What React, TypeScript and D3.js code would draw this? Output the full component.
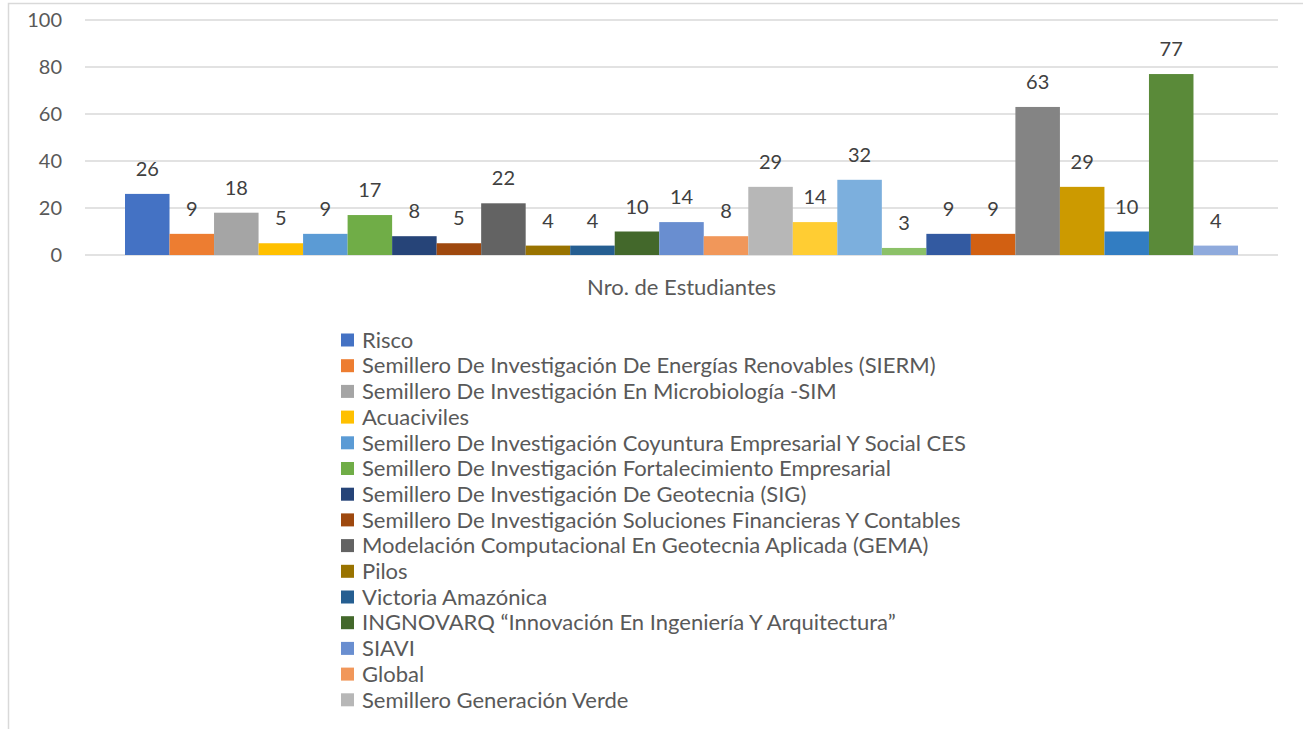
import React, { useEffect, useRef } from 'react';
import * as d3 from 'd3';

// bar values, left to right (one bar per series)
const values = [26, 9, 18, 5, 9, 17, 8, 5, 22, 4, 4, 10, 14, 8, 29, 14, 32, 3, 9, 9, 63, 29, 10, 77, 4];

// office-like palette, one colour per series
const colors = [
  '#4472C4', '#ED7D31', '#A5A5A5', '#FFC000', '#5B9BD5', '#70AD47',
  '#264478', '#9E480E', '#636363', '#997300', '#255E91', '#43682B',
  '#698ED0', '#F1975A', '#B7B7B7', '#FFCD33', '#7CAFDD', '#8CC168',
  '#335AA1', '#D26012', '#848484', '#CC9A00', '#327DC2', '#5A8A39',
  '#8FAADC',
];

// legend entries that are visible (the legend is cut off after these)
const seriesNames = [
  'Risco',
  'Semillero De Investigación De Energías Renovables (SIERM)',
  'Semillero De Investigación En Microbiología -SIM',
  'Acuaciviles',
  'Semillero De Investigación Coyuntura Empresarial Y Social CES',
  'Semillero De Investigación Fortalecimiento Empresarial',
  'Semillero De Investigación De Geotecnia (SIG)',
  'Semillero De Investigación Soluciones Financieras Y Contables',
  'Modelación Computacional En Geotecnia Aplicada (GEMA)',
  'Pilos',
  'Victoria Amazónica',
  'INGNOVARQ “Innovación En Ingeniería Y Arquitectura”',
  'SIAVI',
  'Global',
  'Semillero Generación Verde',
];

const yTicks = [0, 20, 40, 60, 80, 100];
const category = 'Nro. de Estudiantes';

const W = 1303;
const H = 729;
const font = 'Lato, Calibri, sans-serif';
const textColor = '#595959';

const App = () => {
  const svgRef = useRef(null);

  useEffect(() => {
    const svg = d3.select(svgRef.current);
    svg.selectAll('*').remove();

    // chart border
    svg.append('rect')
      .attr('x', 8.5).attr('y', 3.5)
      .attr('width', W + 20).attr('height', H + 20)
      .attr('fill', 'white')
      .attr('stroke', '#D9D9D9')
      .attr('stroke-width', 1.5);

    const plot = { left: 85, right: 1278, top: 20, bottom: 255 };

    const y = d3.scaleLinear().domain([0, 100]).range([plot.bottom, plot.top]);
    const cat = d3.scaleBand().domain([category]).range([plot.left, plot.right]);
    const groupPad = 40;
    const x = d3.scaleBand()
      .domain(d3.range(values.length).map(String))
      .range([cat(category) + groupPad, cat(category) + cat.bandwidth() - groupPad]);

    // gridlines
    svg.append('g')
      .selectAll('line')
      .data(yTicks)
      .join('line')
      .attr('x1', plot.left).attr('x2', plot.right)
      .attr('y1', (d) => y(d)).attr('y2', (d) => y(d))
      .attr('stroke', '#D9D9D9')
      .attr('stroke-width', 1.5);

    // y tick labels
    svg.append('g')
      .selectAll('text')
      .data(yTicks)
      .join('text')
      .attr('x', 62)
      .attr('y', (d) => y(d))
      .attr('dy', '0.35em')
      .attr('text-anchor', 'end')
      .attr('font-family', font)
      .attr('font-size', 20)
      .attr('fill', textColor)
      .text((d) => d);

    // bars
    svg.append('g')
      .selectAll('rect')
      .data(values)
      .join('rect')
      .attr('x', (_, i) => x(String(i)))
      .attr('width', x.bandwidth())
      .attr('y', (d) => y(d))
      .attr('height', (d) => y(0) - y(d))
      .attr('fill', (_, i) => colors[i]);

    // value labels
    svg.append('g')
      .selectAll('text')
      .data(values)
      .join('text')
      .attr('x', (_, i) => x(String(i)) + x.bandwidth() / 2)
      .attr('y', (d) => y(d) - 18)
      .attr('text-anchor', 'middle')
      .attr('font-family', font)
      .attr('font-size', 20)
      .attr('fill', '#404040')
      .text((d) => d);

    // category label
    svg.append('text')
      .attr('x', cat(category) + cat.bandwidth() / 2)
      .attr('y', 287)
      .attr('dy', '0.35em')
      .attr('text-anchor', 'middle')
      .attr('font-family', font)
      .attr('font-size', 22)
      .attr('fill', textColor)
      .text(category);

    // legend
    const legend = svg.append('g').attr('transform', 'translate(341, 340)');
    const rowH = 25.7;
    const items = legend.selectAll('g')
      .data(seriesNames)
      .join('g')
      .attr('transform', (_, i) => `translate(0, ${i * rowH})`);
    items.append('rect')
      .attr('x', 0).attr('y', -6.5)
      .attr('width', 13).attr('height', 13)
      .attr('fill', (_, i) => colors[i]);
    items.append('text')
      .attr('x', 21)
      .attr('y', 0)
      .attr('dy', '0.35em')
      .attr('font-family', font)
      .attr('font-size', 22)
      .attr('fill', textColor)
      .text((d) => d);
  }, []);

  return (
    <svg
      ref={svgRef}
      width={W}
      height={H}
      style={{ position: 'absolute', left: 0, top: 0, background: 'white' }}
    />
  );
};

export default App;
